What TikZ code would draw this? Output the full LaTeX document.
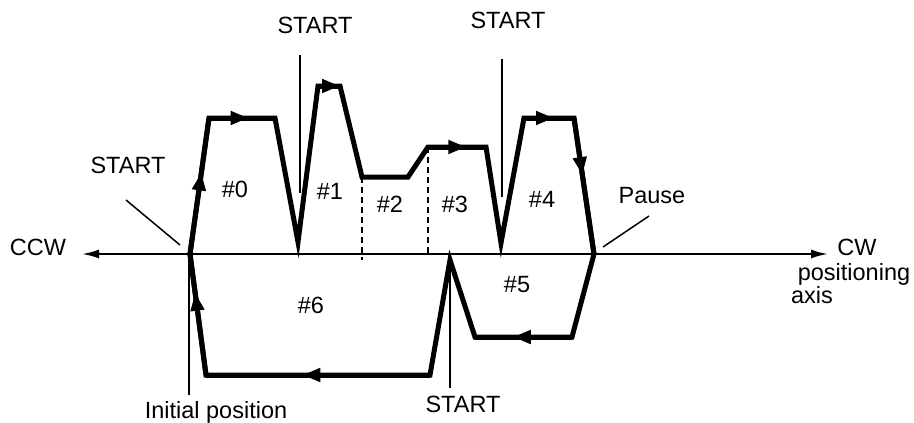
\documentclass[tikz,border=0pt]{standalone}
\usepackage{fontspec}
\setmainfont{Liberation Sans}
\usetikzlibrary{arrows.meta,decorations.markings}
\begin{document}
\begin{tikzpicture}[x=1pt,y=-1pt,
  lbl/.style={font=\fontsize{23.5}{27}\selectfont, inner sep=0pt, anchor=base},
  motion/.style={line width=5pt, line join=miter, miter limit=20, line cap=butt},
  axisline/.style={line width=2pt, {Latex[length=17pt,width=9pt]}-{Latex[length=17pt,width=9pt]}},
  pointer/.style={line width=1.5pt},
  divider/.style={line width=2pt, dash pattern=on 6pt off 4pt},
  tipat/.style={postaction={decorate, decoration={markings, mark=at position #1 with {\arrow{Triangle[length=18pt,width=13pt]}}}}},
]
\useasboundingbox (0,0) rectangle (914,423);

% path vertices
\coordinate (p0) at (190,254);
\coordinate (p1) at (209,118);
\coordinate (p2) at (275,118);
\coordinate (p3) at (298,242);
\coordinate (p4) at (318,86);
\coordinate (p5) at (340,86);
\coordinate (p6) at (362,177);
\coordinate (p7) at (408,177);
\coordinate (p8) at (428,147);
\coordinate (p9) at (486,147);
\coordinate (p10) at (501,243);
\coordinate (p11) at (524,118);
\coordinate (p12) at (574,118);
\coordinate (p13) at (594,254);
\coordinate (p14) at (572,337);
\coordinate (p15) at (475,337);
\coordinate (p16) at (450,260);
\coordinate (p17) at (430,375);
\coordinate (p18) at (206,375);

% axis
\coordinate (axL) at (82,254);
\coordinate (axR) at (828,254);
\draw[axisline] (axL) -- (axR);

% dividers
\coordinate (d1t) at (362,177);
\coordinate (d1b) at (362,260);
\coordinate (d2t) at (428,147);
\coordinate (d2b) at (428,254);
\draw[divider] (d1t) -- (d1b);
\draw[divider] (d2t) -- (d2b);

% pointer lines
\coordinate (sLa) at (126,200);
\coordinate (sLb) at (180,245);
\coordinate (sT1a) at (300,55);
\coordinate (sT1b) at (300,193);
\coordinate (sT2a) at (502,59);
\coordinate (sT2b) at (502,197);
\coordinate (sBa) at (450,262);
\coordinate (sBb) at (450,388);
\coordinate (iPa) at (189,254);
\coordinate (iPb) at (189,395);
\coordinate (pSa) at (603,247);
\coordinate (pSb) at (649,216);
\draw[pointer] (sLa) -- (sLb);
\draw[pointer] (sT1a) -- (sT1b);
\draw[pointer] (sT2a) -- (sT2b);
\draw[pointer] (sBa) -- (sBb);
\draw[pointer] (iPa) -- (iPb);
\draw[pointer] (pSa) -- (pSb);

% motion path
\draw[motion] (p0) -- (p1) -- (p2) -- (p3) -- (p4) -- (p5) -- (p6) -- (p7) -- (p8) -- (p9)
  -- (p10) -- (p11) -- (p12) -- (p13) -- (p14) -- (p15) -- (p16) -- (p17) -- (p18) -- cycle;

% direction arrows
\draw[motion, tipat=0.60] (p0) -- (p1);
\draw[motion, tipat=0.60] (p1) -- (p2);
\draw[motion, tipat=1] (p4) -- (p5);
\draw[motion, tipat=0.66] (p8) -- (p9);
\draw[motion, tipat=0.60] (p11) -- (p12);
\draw[motion, tipat=0.42] (p12) -- (p13);
\draw[motion, tipat=0.61] (p14) -- (p15);
\draw[motion, tipat=0.57] (p17) -- (p18);
\draw[motion, tipat=0.68] (p18) -- (p0);

% labels
\node[lbl] (ccw) at (38,255) {CCW};
\node[lbl] (cw) at (857,255) {CW};
\node[lbl] (posit) at (854,280) {positioning};
\node[lbl] (axisl) at (812,303) {axis};
\node[lbl] (startL) at (128,173) {START};
\node[lbl] (startT1) at (315,33) {START};
\node[lbl] (startT2) at (508,28) {START};
\node[lbl] (startB) at (463,412) {START};
\node[lbl] (init) at (216,418) {Initial position};
\node[lbl] (pause) at (652,203) {Pause};
\node[lbl] (n0) at (235,197) {\#0};
\node[lbl] (n1) at (330,199) {\#1};
\node[lbl] (n2) at (390,212) {\#2};
\node[lbl] (n3) at (455,212) {\#3};
\node[lbl] (n4) at (542,207) {\#4};
\node[lbl] (n5) at (517,292) {\#5};
\node[lbl] (n6) at (311,313) {\#6};
\end{tikzpicture}
\end{document}
